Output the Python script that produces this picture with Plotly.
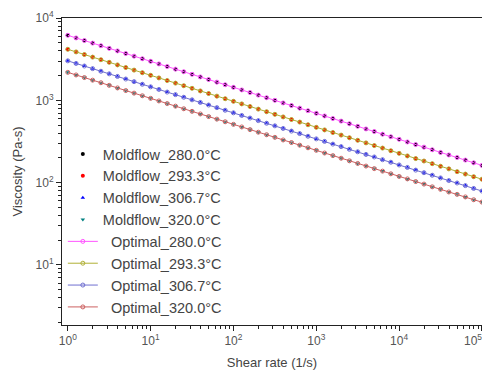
import plotly.graph_objects as go

# Shear rate (1/s)
shear_rate = [1, 1.259, 1.585, 1.995, 2.512, 3.162, 3.981, 5.012, 6.310, 7.943,
              10, 12.59, 15.85, 19.95, 25.12, 31.62, 39.81, 50.12, 63.10, 79.43,
              100, 125.9, 158.5, 199.5, 251.2, 316.2, 398.1, 501.2, 631.0, 794.3,
              1000, 1259, 1585, 1995, 2512, 3162, 3981, 5012, 6310, 7943,
              10000, 12589, 15849, 19953, 25119, 31623, 39811, 50119, 63096, 79433,
              100000]

# Viscosity (Pa-s)
visc_280 = [6166, 5733, 5331, 4957, 4609, 4285, 3985, 3705, 3445, 3203,
            2979, 2770, 2575, 2394, 2226, 2070, 1925, 1790, 1664, 1547,
            1439, 1338, 1244, 1157, 1076, 1000, 930, 865, 804, 748,
            695, 646, 601, 559, 520, 483, 449, 418, 388, 361,
            336, 312, 290, 270, 251, 233, 217, 202, 188, 174,
            162]
visc_293 = [4169, 3876, 3604, 3351, 3116, 2898, 2694, 2505, 2329, 2166,
            2014, 1873, 1741, 1619, 1505, 1400, 1301, 1210, 1125, 1046,
            973, 905, 841, 782, 727, 676, 629, 585, 544, 505,
            470, 437, 406, 378, 351, 327, 304, 282, 263, 244,
            227, 211, 196, 183, 170, 158, 147, 136, 127, 118,
            110]
visc_307 = [3020, 2808, 2611, 2428, 2257, 2099, 1952, 1815, 1687, 1569,
            1459, 1356, 1261, 1173, 1090, 1014, 943, 877, 815, 758,
            705, 655, 609, 567, 527, 490, 455, 423, 394, 366,
            340, 317, 294, 274, 254, 237, 220, 205, 190, 177,
            164, 153, 142, 132, 123, 114, 106, 99, 92, 85,
            79]
visc_320 = [2188, 2034, 1892, 1759, 1636, 1521, 1414, 1315, 1223, 1137,
            1057, 983, 914, 850, 790, 735, 683, 635, 591, 549,
            511, 475, 441, 410, 382, 355, 330, 307, 285, 265,
            247, 229, 213, 198, 184, 171, 159, 148, 138, 128,
            119, 111, 103, 96, 89, 83, 77, 72, 67, 62,
            58]

moldflow_names = ["Moldflow_280.0°C", "Moldflow_293.3°C", "Moldflow_306.7°C", "Moldflow_320.0°C"]
optimal_names = ["Optimal_280.0°C", "Optimal_293.3°C", "Optimal_306.7°C", "Optimal_320.0°C"]
series = [visc_280, visc_293, visc_307, visc_320]

x_tick_vals = [1, 10, 100, 1000, 10000]
x_tick_text = ["10<sup>0</sup>", "10<sup>1</sup>", "10<sup>2</sup>", "10<sup>3</sup>", "10<sup>4</sup>"]
x_last_tick_val = 100000
x_last_tick_text = "10<sup>5</sup>"
y_tick_vals = [10, 100, 1000, 10000]
y_tick_text = ["10<sup>1</sup>", "10<sup>2</sup>", "10<sup>3</sup>", "10<sup>4</sup>"]

mold_colors = ["#000000", "#FF0000", "#0000FF", "#008080"]
mold_symbols = ["circle", "circle", "triangle-up", "triangle-down"]
opt_colors = ["#FF55FF", "#B0B035", "#7070D0", "#CC6060"]

fig = go.Figure()
for name, ys, c, s in zip(moldflow_names, series, mold_colors, mold_symbols):
    fig.add_trace(go.Scatter(x=shear_rate, y=ys, name=name, mode="markers",
                             marker=dict(color=c, symbol=s, size=4)))
for name, ys, c in zip(optimal_names, series, opt_colors):
    fig.add_trace(go.Scatter(x=shear_rate, y=ys, name="\u00a0\u00a0" + name, mode="lines+markers",
                             line=dict(color=c, width=1),
                             marker=dict(color=c, symbol="circle-open", size=4,
                                         line=dict(width=1, color=c))))

fam = "Liberation Sans, Arial, sans-serif"
# The page body has an 8px default margin, so the figure is 8px smaller and margins offset
fig.update_layout(
    width=482, height=371,
    margin=dict(l=54, r=8, t=10, b=54, autoexpand=False),
    paper_bgcolor="white", plot_bgcolor="white",
    font=dict(family=fam, size=12, color="#444444"),
    showlegend=True,
    legend=dict(x=0.002, y=0.609, xanchor="left", yanchor="top",
                bgcolor="rgba(0,0,0,0)", borderwidth=0,
                font=dict(family=fam, size=14.5, color="#444444"),
                itemwidth=30, tracegroupgap=0),
)

minor_x = [m * 10 ** d for d in range(0, 5) for m in range(2, 10)]
minor_y = [m * 10 ** d for d in range(0, 4) for m in range(2, 10)]

axis_common = dict(type="log", showgrid=False, zeroline=False, automargin=True,
                   showline=True, linecolor="#222222", linewidth=1, mirror=True,
                   ticks="outside", ticklen=5, tickcolor="#222222",
                   ticklabeloverflow="allow",
                   tickfont=dict(family=fam, size=12, color="#555555"))
fig.update_xaxes(range=[-0.07, 5.0005], tickmode="array", tickvals=x_tick_vals + [x_last_tick_val],
                 ticktext=x_tick_text + [""],
                 minor=dict(tickmode="array", tickvals=minor_x, ticks="outside", ticklen=3,
                            tickcolor="#222222", showgrid=False),
                 title=dict(text="Shear rate (1/s)", standoff=10,
                            font=dict(family=fam, size=13, color="#444444")),
                 **axis_common)
fig.update_yaxes(range=[0.27, 4.0005], tickmode="array", tickvals=y_tick_vals, ticktext=y_tick_text,
                 minor=dict(tickmode="array", tickvals=minor_y, ticks="outside", ticklen=3,
                            tickcolor="#222222", showgrid=False),
                 title=dict(text="Viscosity (Pa-s)", standoff=10,
                            font=dict(family=fam, size=13, color="#444444")),
                 **axis_common)

# last x tick label, anchored at the right end of the plot so it stays on the page
fig.add_annotation(x=1, y=0, xref="paper", yref="paper", text=x_last_tick_text,
                   showarrow=False, xanchor="right", yanchor="top", yshift=-5, xshift=2,
                   font=dict(family=fam, size=12, color="#555555"))

fig.write_html("out.html")
